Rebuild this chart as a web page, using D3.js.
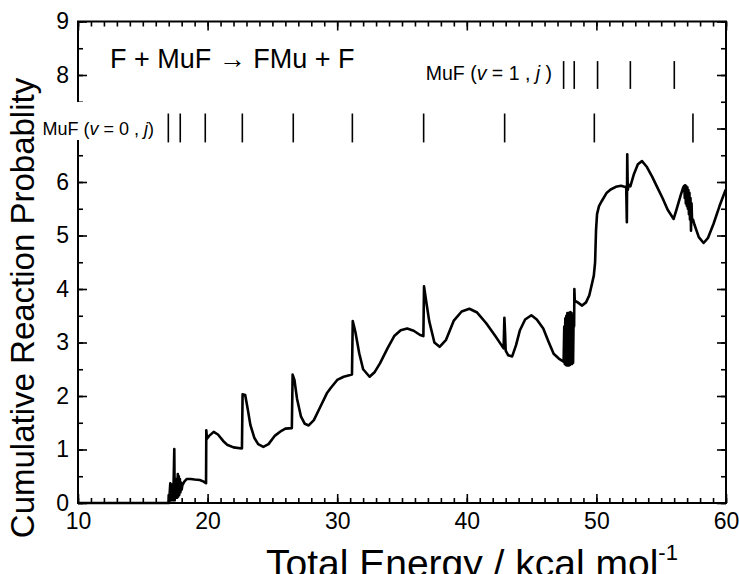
<!DOCTYPE html>
<html>
<head>
<meta charset="utf-8">
<script src="https://cdn.jsdelivr.net/npm/d3@7"></script>
<style>
  body { margin: 0; background: #fff; }
  svg { font-family: "Liberation Sans", Arial, sans-serif; }
</style>
</head>
<body>
<div id="chart"></div>
<script>
// data
var energy = [10, 16.98, 17.0, 17.03, 17.12, 17.15, 17.2, 17.24, 17.3, 17.35, 17.43, 17.46, 17.52, 17.56,
  17.62, 17.65, 17.7, 17.73, 17.78, 17.81, 17.86, 17.9, 17.95, 18.0, 18.05, 18.2, 18.4, 18.7, 19.0, 19.4,
  19.7, 19.88, 19.9, 19.95, 20.1, 20.47, 20.8, 21.2, 21.5, 22.0, 22.65, 22.7, 22.9, 23.1, 23.3, 23.6,
  23.9, 24.3, 24.7, 25.2, 25.7, 26.0, 26.5, 26.56, 26.7, 26.9, 27.2, 27.5, 27.8, 28.2, 28.7, 29.2, 29.5,
  30.0, 30.5, 31.14, 31.2, 31.4, 31.7, 32.0, 32.5, 32.9, 33.3, 33.9, 34.4, 34.9, 35.4, 35.9, 36.4, 36.65,
  36.7, 36.85, 37.1, 37.5, 37.9, 38.4, 39.0, 39.6, 40.2, 40.8, 41.5, 42.2, 42.84, 42.9, 42.95, 43.0, 43.2,
  43.5, 43.8, 44.1, 44.5, 44.98, 45.4, 45.9, 46.3, 46.7, 47.1, 47.47,
  47.52, 47.56, 47.6, 47.64, 47.68, 47.72, 47.76, 47.8, 47.84, 47.88, 47.92, 47.96, 48.0, 48.04, 48.08,
  48.12, 48.16, 48.2, 48.24, 48.28, 48.3, 48.33, 48.5, 48.9, 49.2, 49.45, 49.66, 49.8, 49.9, 49.97, 50.05,
  50.2, 50.43, 50.8, 51.1, 51.5, 51.9, 52.3, 52.35, 52.38, 52.42, 52.5, 52.62, 52.9, 53.2, 53.52, 53.9,
  54.3, 54.7, 55.1, 55.5, 55.96, 56.2, 56.5, 56.7,
  56.78, 56.82, 56.86, 56.9, 56.94, 56.98, 57.02, 57.06, 57.1, 57.14, 57.18, 57.22, 57.26, 57.3, 57.34,
  57.38, 57.45, 57.57, 57.9, 58.27, 58.6, 59.04, 59.5, 59.95, 60];
var probability = [0, 0, 0.15, 0, 0.37, 0.05, 0.35, 0.05, 0.2, 0.05, 1.01, 0.05, 0.3, 0.1,
  0.45, 0.1, 0.54, 0.12, 0.5, 0.15, 0.45, 0.2, 0.38, 0.25, 0.33, 0.40, 0.45, 0.45, 0.44, 0.43,
  0.40, 0.37, 1.36, 1.2, 1.25, 1.33, 1.28, 1.16, 1.09, 1.04, 1.02, 2.03, 2.02, 1.75, 1.46, 1.22,
  1.1, 1.05, 1.1, 1.26, 1.35, 1.39, 1.40, 2.40, 2.3, 1.95, 1.62, 1.48, 1.45, 1.55, 1.80, 2.05, 2.15,
  2.3, 2.36, 2.40, 3.40, 3.2, 2.8, 2.5, 2.36, 2.45, 2.61, 2.9, 3.12, 3.23, 3.26, 3.22, 3.14, 3.12,
  4.05, 3.8, 3.4, 3.0, 2.92, 3.05, 3.41, 3.58, 3.63, 3.56, 3.36, 3.12, 2.89, 3.46, 3.2, 2.85, 2.76,
  2.74, 2.95, 3.23, 3.43, 3.51, 3.43, 3.26, 3.02, 2.79, 2.7, 2.64,
  3.3, 2.6, 3.45, 2.58, 3.5, 2.57, 3.55, 2.57, 3.55, 2.57, 3.56, 2.58, 3.57, 2.6, 3.55,
  2.6, 3.5, 2.62, 3.45, 3.3, 4.0, 3.78, 3.76, 3.69, 3.75, 3.88, 4.1, 4.25, 4.5, 5.09, 5.4,
  5.55, 5.65, 5.8, 5.86, 5.91, 5.93, 5.9, 5.25, 6.52, 5.85, 5.95, 5.92, 6.15, 6.33, 6.39, 6.28,
  6.1, 5.9, 5.7, 5.48, 5.31, 5.5, 5.75, 5.9,
  5.93, 5.7, 5.94, 5.6, 5.92, 5.55, 5.9, 5.5, 5.85, 5.4, 5.8, 5.3, 5.7, 5.09, 5.6,
  5.3, 5.3, 5.2, 4.97, 4.86, 4.95, 5.22, 5.55, 5.84, 5.86];

// MuF rovibrational thresholds
var levelsV0 = [16.97, 17.89, 19.82, 22.68, 26.61, 31.17, 36.67, 42.92, 49.84, 57.45];
var levelsV1 = [47.47, 48.29, 50.09, 52.62, 56.01];

var xTicks = [10, 20, 30, 40, 50, 60];
var yTicks = [0, 1, 2, 3, 4, 5, 6, 7, 8, 9];
// the 7 sits under the v = 0 label in the original
var yTickLabels = ["0", "1", "2", "3", "4", "5", "6", "", "8", "9"];

//setup
var width = 739, height = 574;
var mLeft = 78, mRight = 726, mTop = 21.5, mBottom = 503;

var svg = d3.select("#chart").append("svg")
    .attr("width", width)
    .attr("height", height);

var x = d3.scaleLinear().domain([10, 60]).range([mLeft, mRight]);
var y = d3.scaleLinear().domain([0, 9]).range([mBottom, mTop]);

var xMinor = d3.range(10, 61, 1);
var yMinor = d3.range(0, 9.01, 0.5);

function styleAxis(g) {
    g.select(".domain").remove();
    g.selectAll("line").attr("stroke", "#000").attr("stroke-width", 1.6);
    g.selectAll("text").attr("fill", "#000").attr("font-size", 23)
        .attr("font-family", "Liberation Sans, Arial, sans-serif");
}

// bottom
svg.append("g").attr("transform", "translate(0," + mBottom + ")")
    .call(d3.axisBottom(x).tickValues(xMinor).tickSize(-5).tickFormat(""))
    .call(styleAxis);
svg.append("g").attr("transform", "translate(0," + mBottom + ")")
    .call(d3.axisBottom(x).tickValues(xTicks).tickSize(-9).tickPadding(10).tickFormat(d3.format("d")))
    .call(styleAxis);
// top
svg.append("g").attr("transform", "translate(0," + mTop + ")")
    .call(d3.axisTop(x).tickValues(xMinor).tickSize(-5).tickFormat(""))
    .call(styleAxis);
svg.append("g").attr("transform", "translate(0," + mTop + ")")
    .call(d3.axisTop(x).tickValues(xTicks).tickSize(-9).tickFormat(""))
    .call(styleAxis);
// left
svg.append("g").attr("transform", "translate(" + mLeft + ",0)")
    .call(d3.axisLeft(y).tickValues(yMinor).tickSize(-5).tickFormat(""))
    .call(styleAxis);
svg.append("g").attr("transform", "translate(" + mLeft + ",0)")
    .call(d3.axisLeft(y).tickValues(yTicks).tickSize(-9).tickPadding(9)
        .tickFormat(function (d, i) { return yTickLabels[i]; }))
    .call(styleAxis);
// right
svg.append("g").attr("transform", "translate(" + mRight + ",0)")
    .call(d3.axisRight(y).tickValues(yMinor).tickSize(-5).tickFormat(""))
    .call(styleAxis);
svg.append("g").attr("transform", "translate(" + mRight + ",0)")
    .call(d3.axisRight(y).tickValues(yTicks).tickSize(-9).tickFormat(""))
    .call(styleAxis);

// frame
svg.append("rect")
    .attr("x", mLeft).attr("y", mTop)
    .attr("width", mRight - mLeft).attr("height", mBottom - mTop)
    .attr("fill", "none").attr("stroke", "#000").attr("stroke-width", 2);

// curve
var pts = energy.map(function (e, i) { return [e, probability[i]]; });
var line = d3.line()
    .x(function (d) { return x(d[0]); })
    .y(function (d) { return y(d[1]); });

svg.append("path")
    .attr("d", line(pts))
    .attr("fill", "none")
    .attr("stroke", "#000")
    .attr("stroke-width", 2.6)
    .attr("stroke-linejoin", "round");

// threshold markers
svg.selectAll(".v0").data(levelsV0).enter().append("line")
    .attr("x1", function (d) { return x(d); }).attr("x2", function (d) { return x(d); })
    .attr("y1", y(7.28)).attr("y2", y(6.74))
    .attr("stroke", "#000").attr("stroke-width", 1.6);
svg.selectAll(".v1").data(levelsV1).enter().append("line")
    .attr("x1", function (d) { return x(d); }).attr("x2", function (d) { return x(d); })
    .attr("y1", y(8.26)).attr("y2", y(7.74))
    .attr("stroke", "#000").attr("stroke-width", 1.6);

// labels for the threshold rows, on a white box (it hides the axis behind it)
function levelLabel(vib, xEnd, yBase, size) {
    var bg = svg.append("rect").attr("fill", "#fff");
    var t = svg.append("text")
        .attr("x", xEnd).attr("y", yBase)
        .attr("text-anchor", "end")
        .attr("font-size", size);
    t.append("tspan").text("MuF (");
    t.append("tspan").attr("font-style", "italic").text("v");
    t.append("tspan").text(" = " + vib + " , ");
    t.append("tspan").attr("font-style", "italic").text("j");
    t.append("tspan").text(vib == 1 ? " )" : ")");
    var b = t.node().getBBox();
    bg.attr("x", b.x - 2).attr("y", yBase - 33)
        .attr("width", b.width + 4).attr("height", 38);
}
levelLabel(0, 154, 135, 18);
levelLabel(1, 552, 80, 19.5);

// title
svg.append("text")
    .attr("x", 110).attr("y", 68)
    .attr("font-size", 27)
    .text("F + MuF \u2192 FMu + F");

// axis labels (bottom one is clipped by the page edge, as in the original)
var xl = svg.append("text")
    .attr("x", 266).attr("y", 577)
    .attr("font-size", 39);
xl.append("tspan").text("Total Energy / kcal mol");
xl.append("tspan").attr("font-size", 22).attr("dy", -17).text("-1");

svg.append("text")
    .attr("transform", "translate(34,308) rotate(-90)")
    .attr("text-anchor", "middle")
    .attr("font-size", 33)
    .text("Cumulative Reaction Probablity");
</script>
</body>
</html>
